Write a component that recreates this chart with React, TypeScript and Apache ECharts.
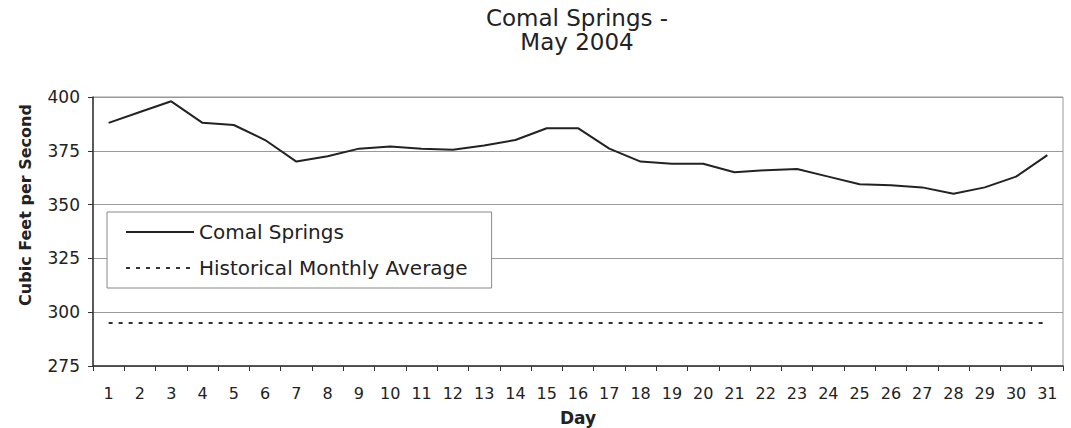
import React, { useEffect, useRef } from "react";
import * as echarts from "echarts";

const days = [
  "1", "2", "3", "4", "5", "6", "7", "8", "9", "10", "11", "12", "13", "14", "15", "16",
  "17", "18", "19", "20", "21", "22", "23", "24", "25", "26", "27", "28", "29", "30", "31",
];

const comalSprings = [
  388, 393, 398, 388, 387, 380, 370, 372.5, 376, 377, 376, 375.5, 377.5, 380, 385.5, 385.5,
  376, 370, 369, 369, 365, 366, 366.5, 363, 359.5, 359, 358, 355, 358, 363, 373,
];

const historicalAverage = [
  295, 295, 295, 295, 295, 295, 295, 295, 295, 295, 295, 295, 295, 295, 295, 295,
  295, 295, 295, 295, 295, 295, 295, 295, 295, 295, 295, 295, 295, 295, 295,
];

const yMin = 275;
const yMax = 400;
const yInterval = 25;

const FONT = "'DejaVu Sans', sans-serif";

export default function App() {
  const ref = useRef<HTMLDivElement>(null);

  useEffect(() => {
    if (!ref.current) return;
    const chart = echarts.init(ref.current, undefined, { renderer: "svg" });
    chart.setOption({
      animation: false,
      backgroundColor: "#ffffff",
      textStyle: { fontFamily: FONT },
      graphic: [
        {
          type: "text",
          x: 577,
          y: 18,
          style: {
            text: "Comal Springs -",
            textAlign: "center",
            textVerticalAlign: "middle",
            fontSize: 23,
            fontFamily: FONT,
            fill: "#222",
          },
        },
        {
          type: "text",
          x: 577,
          y: 42,
          style: {
            text: "May 2004",
            textAlign: "center",
            textVerticalAlign: "middle",
            fontSize: 23,
            fontFamily: FONT,
            fill: "#222",
          },
        },
        {
          type: "text",
          x: 25,
          y: 205,
          rotation: Math.PI / 2,
          style: {
            text: "Cubic Feet per Second",
            textAlign: "center",
            textVerticalAlign: "middle",
            fontSize: 16,
            fontWeight: "bold",
            fontFamily: FONT,
            fill: "#222",
          },
        },
      ],
      legend: {
        orient: "vertical",
        left: 107,
        top: 212,
        padding: [8, 24, 8, 18],
        backgroundColor: "#ffffff",
        borderColor: "#888",
        borderWidth: 1,
        itemWidth: 68,
        itemHeight: 24,
        itemGap: 12,
        itemStyle: { opacity: 0 },
        textStyle: { fontSize: 20, fontFamily: FONT, color: "#222", lineHeight: 24 },
        data: ["Comal Springs", "Historical Monthly Average"],
      },
      grid: {
        left: 93,
        right: 8,
        top: 97,
        bottom: 62,
        containLabel: false,
        outerBoundsMode: "none",
        show: true,
        borderColor: "#999",
        borderWidth: 1,
      },
      xAxis: {
        type: "category",
        data: days,
        boundaryGap: true,
        name: "Day",
        nameLocation: "middle",
        nameGap: 43,
        nameTextStyle: { fontSize: 17, fontWeight: "bold", fontFamily: FONT, color: "#222" },
        axisLine: { show: true, lineStyle: { color: "#333", width: 1.5 } },
        axisTick: { show: true, interval: 0, length: 5, lineStyle: { color: "#333" } },
        axisLabel: { interval: 0, fontSize: 16, fontFamily: FONT, color: "#222", margin: 19 },
        splitLine: { show: false },
      },
      yAxis: {
        type: "value",
        min: yMin,
        max: yMax,
        interval: yInterval,
        axisLine: { show: true, lineStyle: { color: "#333", width: 1.5 } },
        axisTick: { show: true, length: 5, lineStyle: { color: "#333" } },
        axisLabel: { fontSize: 17, fontFamily: FONT, color: "#222", margin: 13 },
        splitLine: { show: true, lineStyle: { color: "#999", width: 1 } },
      },
      series: [
        {
          name: "Comal Springs",
          type: "line",
          data: comalSprings,
          symbol: "none",
          lineStyle: { color: "#222", width: 2 },
          itemStyle: { color: "#222" },
        },
        {
          name: "Historical Monthly Average",
          type: "line",
          data: historicalAverage,
          symbol: "none",
          lineStyle: { color: "#333", width: 2, type: [4, 6] },
          itemStyle: { color: "#333" },
        },
      ],
    });
    return () => chart.dispose();
  }, []);

  return (
    <div
      ref={ref}
      style={{ position: "fixed", left: 0, top: 0, width: 1071, height: 428 }}
    />
  );
}
